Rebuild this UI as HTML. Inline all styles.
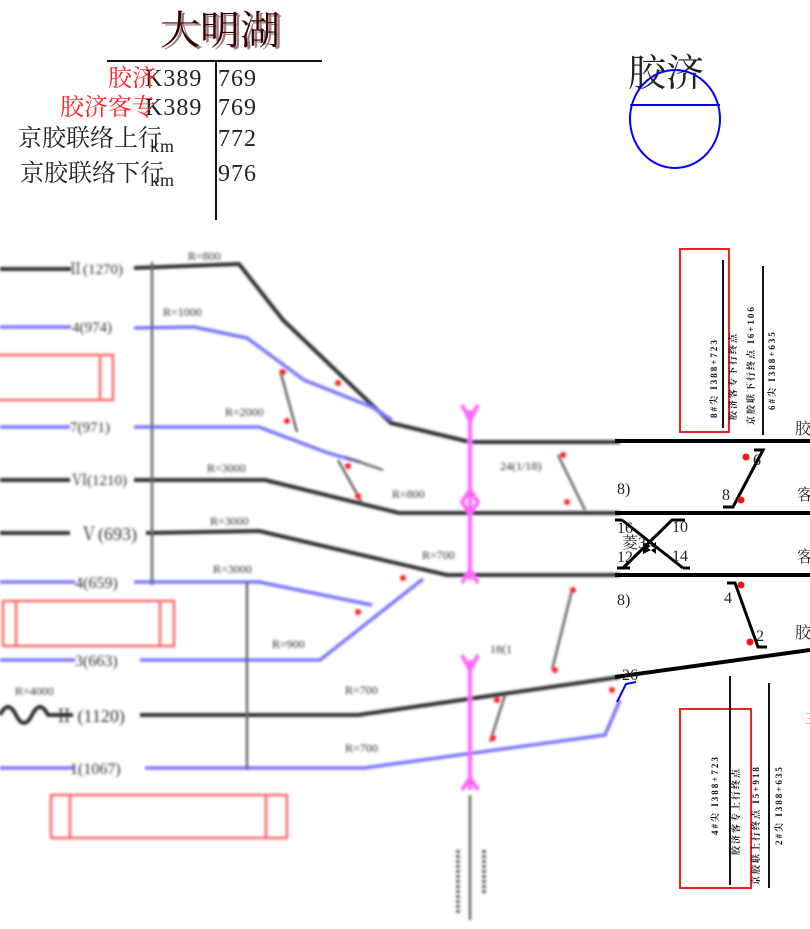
<!DOCTYPE html>
<html><head><meta charset="utf-8"><style>
html,body{margin:0;padding:0;background:#fff;width:810px;height:929px;overflow:hidden}
svg{display:block}
text{font-family:"Liberation Serif","Noto Serif CJK SC",serif}
.cj{font-family:"Liberation Serif","Noto Serif CJK SC","Noto Sans CJK SC",serif}
</style></head><body>
<svg width="810" height="929" viewBox="0 0 810 929" xmlns="http://www.w3.org/2000/svg">
<defs><filter id="b" x="-5%" y="-5%" width="110%" height="110%"><feGaussianBlur stdDeviation="1.4"/></filter></defs>

<!-- header -->
<text x="160" y="44" font-size="40" fill="#3a0000" class="cj">大明湖</text>
<text x="163" y="46" font-size="40" fill="#3a0000" opacity="0.5" class="cj">大明湖</text>
<line x1="107" y1="61" x2="322" y2="61" stroke="#111" stroke-width="2"/>
<line x1="216" y1="61" x2="216" y2="220" stroke="#111" stroke-width="2"/>
<g font-size="24" fill="#222" letter-spacing="1">
<text x="145" y="86">K389</text><text x="218" y="86">769</text>
<text x="145" y="115">K389</text><text x="218" y="115">769</text>
<text x="18" y="146" class="cj" letter-spacing="0">京胶联络上行</text><text x="150" y="152" font-size="18">km</text><text x="218" y="146">772</text>
<text x="20" y="181" class="cj" letter-spacing="0">京胶联络下行</text><text x="150" y="186" font-size="18">km</text><text x="218" y="181">976</text>
</g>
<text x="108" y="86" font-size="24" fill="#f22" class="cj">胶济</text>
<text x="60" y="115" font-size="24" fill="#f22" class="cj">胶济客专</text>

<text x="628" y="86" font-size="38" fill="#222" class="cj">胶济</text>
<ellipse cx="675" cy="119" rx="45" ry="49" fill="none" stroke="#00f" stroke-width="2"/>
<line x1="630" y1="105" x2="720" y2="105" stroke="#00f" stroke-width="2"/>

<!-- blurred left region -->
<g filter="url(#b)" fill="none" stroke-linejoin="round">
<g stroke="#f66" stroke-width="2.5">
<rect x="-5" y="355" width="118" height="45"/>
<rect x="3" y="601" width="171" height="45"/>
<rect x="51" y="795" width="236" height="43"/>
<line x1="100" y1="356" x2="100" y2="399"/><line x1="16" y1="602" x2="16" y2="646"/><line x1="160" y1="602" x2="160" y2="646"/>
<line x1="70" y1="796" x2="70" y2="837"/><line x1="266" y1="796" x2="266" y2="837"/>
</g>
<g stroke="#333" stroke-width="4">
<polyline points="0,269 71,269"/><polyline points="134,268 239,264 283,320 391,423 470,442 620,442"/>
<polyline points="0,480 70,480"/><polyline points="134,480 265,480 399,513 620,513"/>
<polyline points="0,533 70,533"/><polyline points="146,533 259,531 447,575 620,575"/>
<polyline points="140,715 358,715 620,677"/>
<path d="M0,715 q8,-16 16,0 t16,0 t16,0 l25,0"/>
</g>
<g stroke="#77f" stroke-width="3.5">
<polyline points="0,327 71,327"/><polyline points="134,328 194,327 247,338 304,380 372,407 392,420"/>
<polyline points="0,427 70,427"/><polyline points="134,427 259,427 328,453 360,462"/>
<polyline points="0,582 75,582"/><polyline points="134,582 259,582 372,605"/>
<polyline points="0,660 75,660"/><polyline points="140,660 320,660 423,579"/>
<polyline points="0,768 75,768"/><polyline points="145,768 364,768 605,735 620,700"/>
</g>
<g stroke="#666" stroke-width="2.5">
<line x1="152" y1="262" x2="152" y2="585"/><line x1="247" y1="582" x2="247" y2="770"/>
<line x1="280" y1="370" x2="297" y2="432"/><line x1="338" y1="460" x2="362" y2="503"/>
<line x1="345" y1="457" x2="383" y2="470"/><line x1="558" y1="455" x2="585" y2="510"/>
<line x1="572" y1="590" x2="552" y2="670"/><line x1="505" y1="695" x2="490" y2="742"/>
<line x1="470" y1="795" x2="470" y2="920"/>
<line x1="458" y1="850" x2="458" y2="915" stroke-dasharray="3,2" stroke-width="4"/>
<line x1="484" y1="850" x2="484" y2="895" stroke-dasharray="3,2" stroke-width="4"/>
</g>
<g stroke="#f6f" stroke-width="4">
<line x1="470" y1="410" x2="470" y2="580"/><path d="M462,405 L470,420 L478,405 M462,583 L470,570 L478,583"/>
<path d="M470,490 L478,502 L470,514 L462,502 Z"/>
<line x1="470" y1="660" x2="470" y2="790"/><path d="M462,655 L470,670 L478,655 M462,790 L470,778 L478,790"/>
</g>
<g fill="#f22" stroke="none">
<circle cx="283" cy="372" r="3"/><circle cx="338" cy="383" r="3"/><circle cx="287" cy="421" r="3"/>
<circle cx="348" cy="466" r="3"/><circle cx="358" cy="496" r="3"/><circle cx="563" cy="455" r="3"/><circle cx="567" cy="502" r="3"/>
<circle cx="403" cy="578" r="3"/><circle cx="358" cy="612" r="3"/><circle cx="573" cy="590" r="3"/><circle cx="555" cy="670" r="3"/>
<circle cx="497" cy="700" r="3"/><circle cx="493" cy="738" r="3"/><circle cx="612" cy="690" r="3"/>
</g>
<g fill="#333" stroke="none" font-size="15">
<text x="68" y="274">Ⅱ(1270)</text><text x="72" y="332">4(974)</text><text x="70" y="432">7(971)</text>
<text x="72" y="485">Ⅵ(1210)</text><text x="80" y="540" font-size="18">Ⅴ(693)</text><text x="75" y="588" font-size="16">4(659)</text>
<text x="75" y="666" font-size="16">3(663)</text><text x="55" y="722" font-size="18">Ⅱ (1120)</text><text x="70" y="774" font-size="16">1(1067)</text>
<g font-size="12"><text x="188" y="260">R=800</text><text x="163" y="316">R=1000</text><text x="225" y="416">R=2000</text>
<text x="207" y="472">R=3000</text><text x="210" y="525">R=3000</text><text x="213" y="573">R=3000</text>
<text x="272" y="648">R=900</text><text x="345" y="694">R=700</text><text x="345" y="752">R=700</text>
<text x="392" y="498">R=800</text><text x="422" y="559">R=700</text><text x="500" y="470">24(1/18)</text><text x="490" y="653">18(1</text><text x="15" y="695">R=4000</text></g>
</g>
</g>

<!-- right area -->
<g stroke="#000" stroke-width="4" fill="none">
<line x1="615" y1="441" x2="810" y2="441"/><line x1="615" y1="513" x2="810" y2="513"/>
<line x1="615" y1="575" x2="810" y2="575"/><line x1="615" y1="677" x2="810" y2="650"/>
</g>
<g stroke="#000" stroke-width="3" fill="none">
<polyline points="754,450 763,450 733,507 723,507"/>
<line x1="622" y1="520" x2="683" y2="568"/><polyline points="623,568 672,520 685,520"/>
<line x1="617" y1="568" x2="630" y2="568"/><line x1="683" y1="568" x2="690" y2="568"/><line x1="615" y1="520" x2="622" y2="520"/>
<polyline points="727,583 735,583 758,647 767,647"/>
</g>
<path d="M643,542 L655,548 L643,554Z M656,542 L648,548 L656,554Z" fill="#000"/>
<polyline points="617,702 626,684 636,682" stroke="#00f" stroke-width="2" fill="none"/>
<g fill="#f11"><circle cx="746" cy="457" r="3.5"/><circle cx="741" cy="500" r="3.5"/><circle cx="741" cy="585" r="3.5"/><circle cx="750" cy="642" r="3.5"/></g>
<g font-size="16" fill="#222">
<text x="753" y="465">6</text><text x="722" y="500">8</text><text x="617" y="494">8)</text><text x="617" y="605">8)</text>
<text x="617" y="533">16</text><text x="617" y="562">12</text><text x="622" y="548" class="cj">菱3</text><text x="672" y="532">10</text><text x="672" y="561">14</text>
<text x="724" y="603">4</text><text x="756" y="641">2</text><text x="622" y="680">26</text>
<text x="795" y="434" class="cj">胶</text><text x="797" y="500" class="cj">客</text><text x="797" y="562" class="cj">客</text><text x="795" y="638" class="cj">胶</text>
</g>
<text x="805" y="724" font-size="14" fill="#f22" class="cj">三</text>

<rect x="680" y="249" width="49" height="183" fill="none" stroke="#e22" stroke-width="2"/>
<line x1="723" y1="260" x2="723" y2="428" stroke="#111" stroke-width="2"/>
<line x1="763" y1="266" x2="763" y2="435" stroke="#111" stroke-width="2"/>
<rect x="680" y="709" width="71" height="179" fill="none" stroke="#e22" stroke-width="2"/>
<line x1="730" y1="676" x2="730" y2="885" stroke="#111" stroke-width="2"/>
<line x1="769" y1="683" x2="769" y2="888" stroke="#111" stroke-width="2"/>
<g font-size="9" fill="#111" font-weight="bold" class="cj" letter-spacing="2">
<text transform="translate(717,418) rotate(-90)">8#尖 I388+723</text>
<text transform="translate(736,420) rotate(-90)">胶济客专下行终点</text>
<text transform="translate(754,425) rotate(-90)">京胶联下行终点 I6+106</text>
<text transform="translate(775,410) rotate(-90)">6#尖 I388+635</text>
<text transform="translate(718,835) rotate(-90)">4#尖 I388+723</text>
<text transform="translate(739,855) rotate(-90)">胶济客专上行终点</text>
<text transform="translate(759,885) rotate(-90)">京胶联上行终点 I5+918</text>
<text transform="translate(782,845) rotate(-90)">2#尖 I388+635</text>
</g>
</svg>
</body></html>
